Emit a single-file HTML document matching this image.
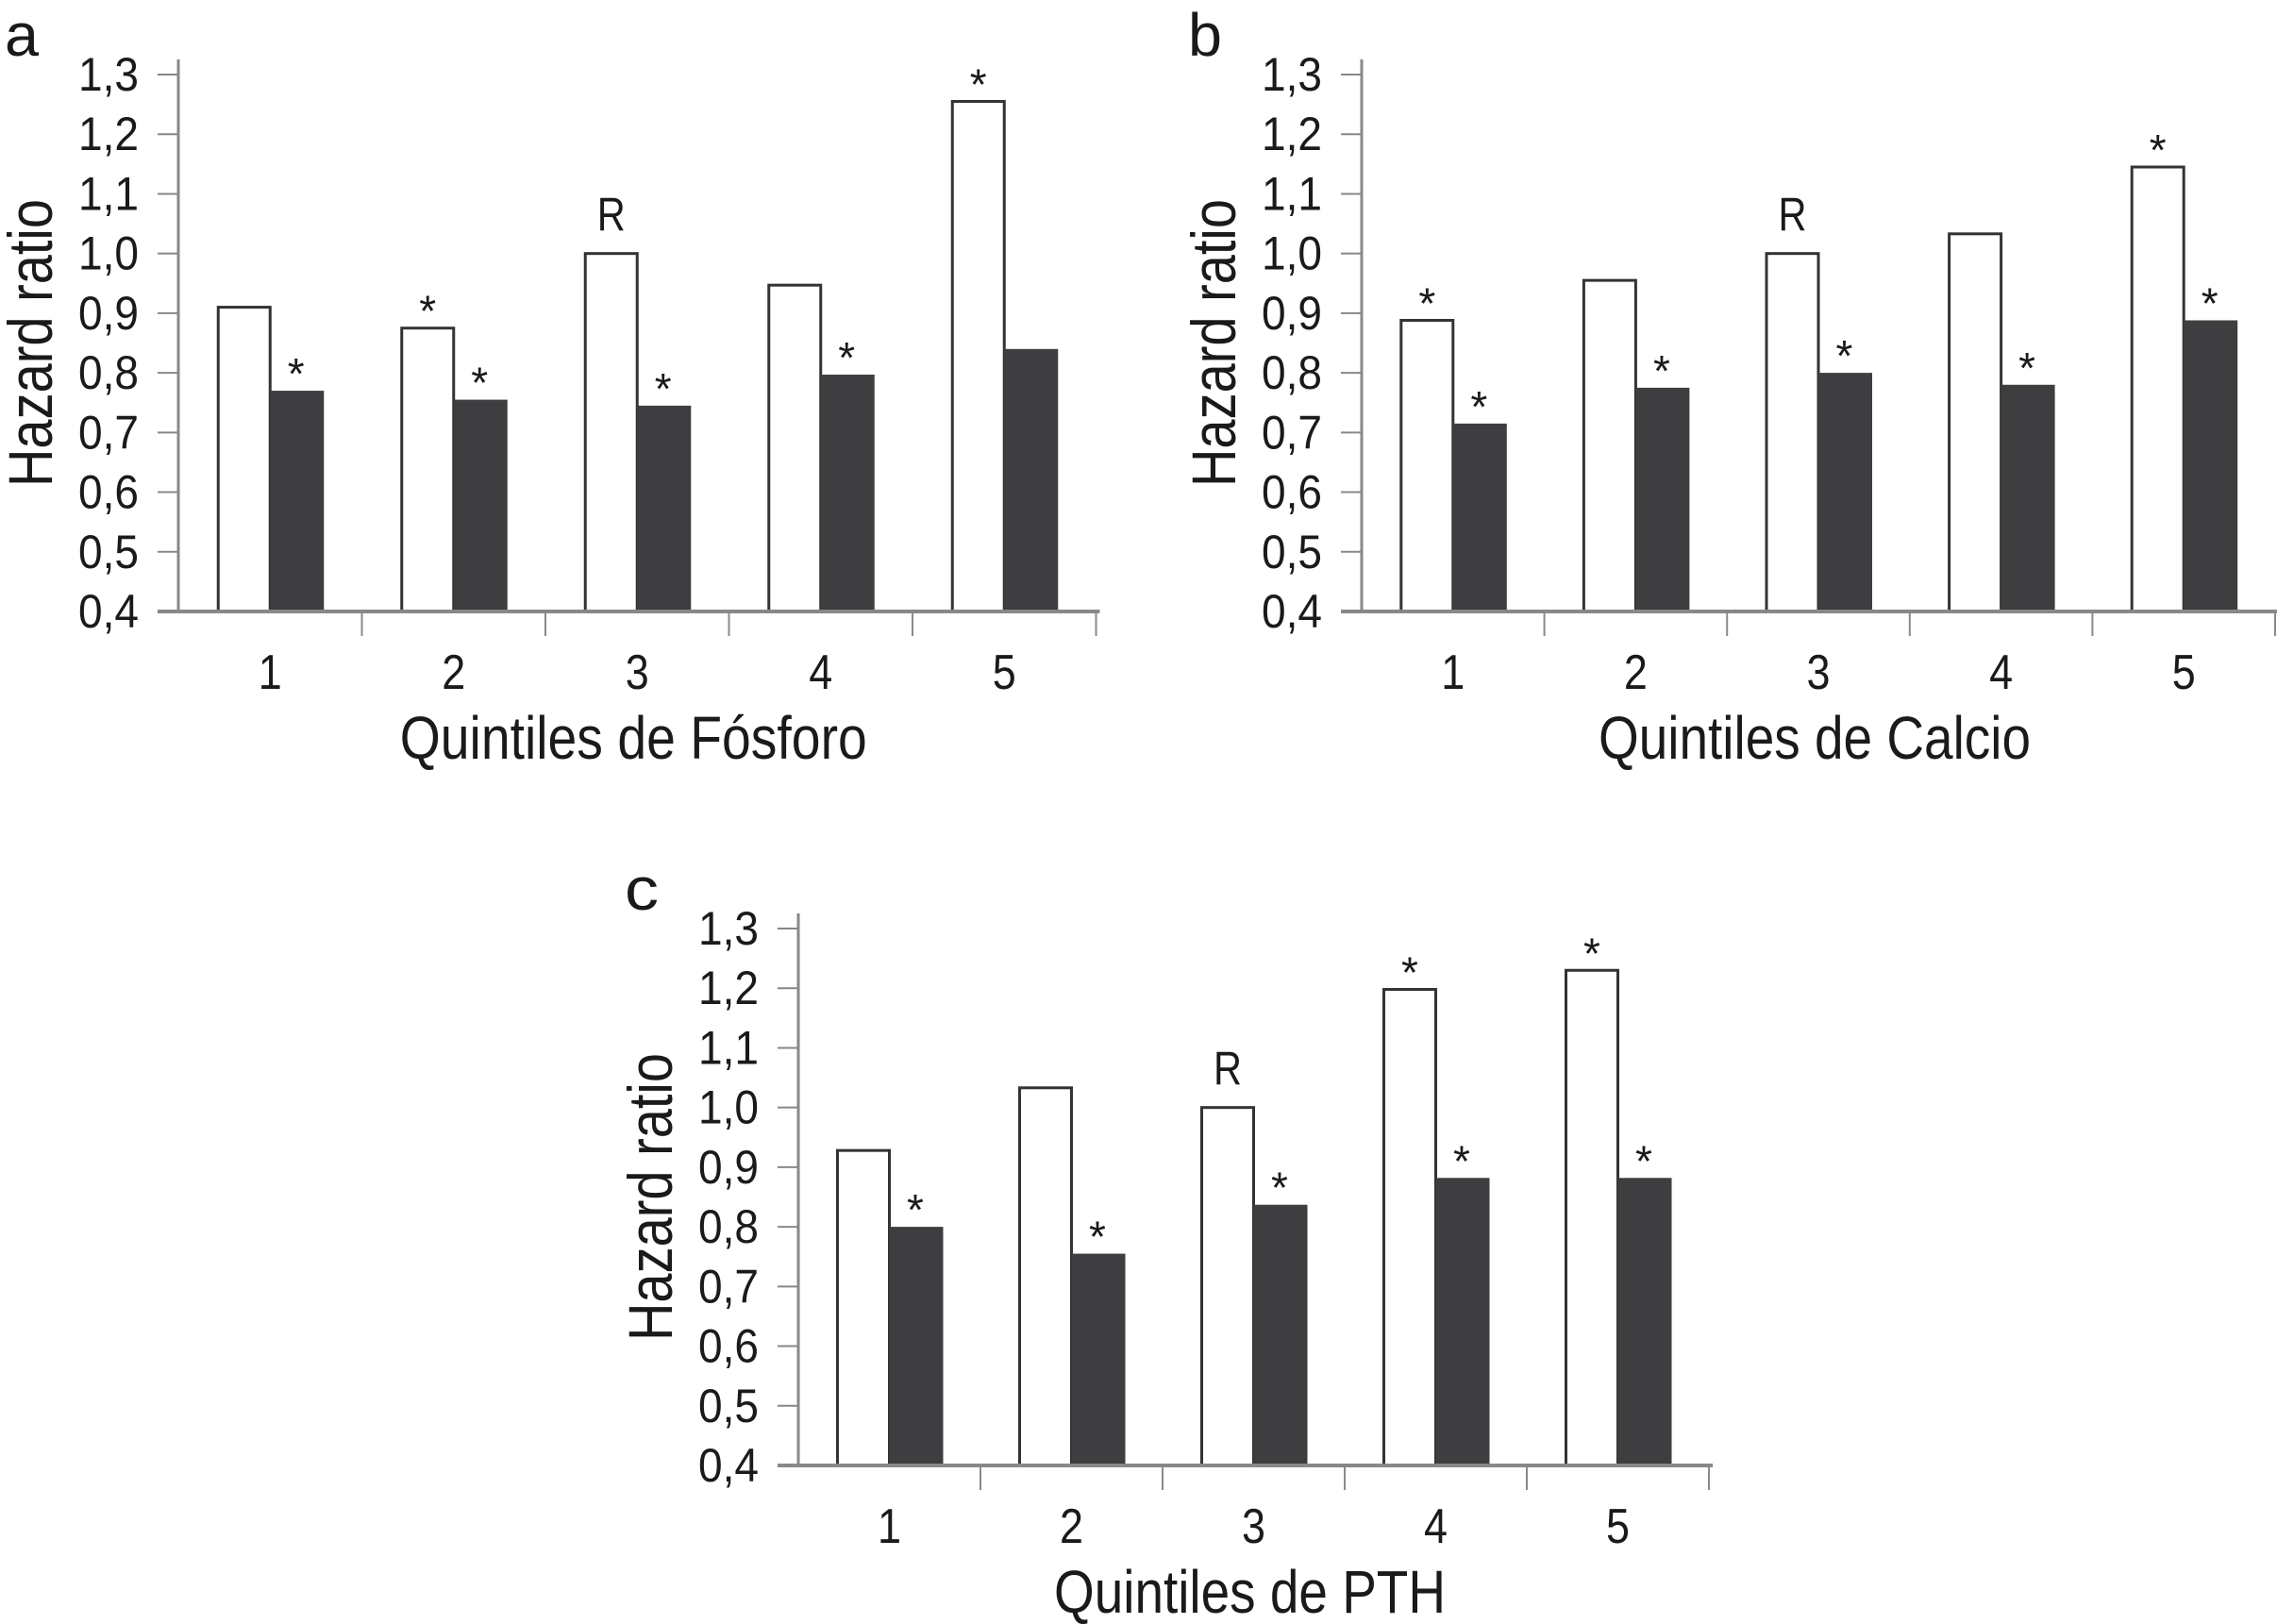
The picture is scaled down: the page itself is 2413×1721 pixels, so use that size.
<!DOCTYPE html>
<html><head><meta charset="utf-8"><style>
html,body{margin:0;padding:0;background:#fff;}
svg{display:block;font-family:"Liberation Sans",Arial,sans-serif;}
</style></head>
<body>
<svg id="fig" width="2413" height="1721" viewBox="0 0 2413 1721"></svg>
<script>
const categories = ["1","2","3","4","5"];
const yTicks = [0.4,0.5,0.6,0.7,0.8,0.9,1.0,1.1,1.2,1.3];
const yTickLabels = ["0,4","0,5","0,6","0,7","0,8","0,9","1,0","1,1","1,2","1,3"];
const fosforoWhite = [0.91,0.875,1.0,0.947,1.255];
const fosforoDark = [0.77,0.755,0.745,0.797,0.84];
const fosforoWhiteStar = [false,true,false,false,true];
const fosforoDarkStar = [true,true,true,true,false];
const calcioWhite = [0.888,0.955,1.0,1.033,1.145];
const calcioDark = [0.715,0.775,0.8,0.78,0.888];
const calcioWhiteStar = [true,false,false,false,true];
const calcioDarkStar = [true,true,true,true,true];
const pthWhite = [0.928,1.033,1.0,1.198,1.23];
const pthDark = [0.8,0.755,0.837,0.882,0.882];
const pthWhiteStar = [false,false,false,true,true];
const pthDarkStar = [true,true,true,true,true];
const refIndex = 2;

const NS="http://www.w3.org/2000/svg";
const svg=document.getElementById('fig');
function mk(tag,attrs,parent){const e=document.createElementNS(NS,tag);for(const k in attrs)e.setAttribute(k,attrs[k]);(parent||svg).appendChild(e);return e;}

function drawChart(cfg){
  const g=mk('g',{});
  
  
  const ax=cfg.ax, y0=cfg.y0, y1=cfg.y1, cw=cfg.cw, bw=55;
  const yScale=v=>y0-(v-0.4)/(1.3-0.4)*(y0-y1);
  const xCenter=i=>ax+cw*(i+0.5);
  const L=mk('text',{x:ax-184,y:y1-20,'font-size':64,fill:'#1a1a1a',textLength:36,lengthAdjust:'spacingAndGlyphs'},g);
  L.textContent=cfg.letter;
  
  
  for(let i=0;i<categories.length;i++){
    const c=xCenter(i);
    const tw=yScale(cfg.white[i]);
    const r1=mk('rect',{x:c-bw,y:tw,width:bw,height:y0-tw,fill:'#fff',stroke:'#333','stroke-width':3},g);
    
    
    const td=yScale(cfg.dark[i]);
    const r2=mk('rect',{x:c,y:td,width:bw+2,height:y0-td,fill:'#3e3e40'},g);
    
    
    if(cfg.ws[i]){const s=mk('text',{x:c-bw/2,y:tw-2,'font-size':46,'text-anchor':'middle',fill:'#1a1a1a'},g);s.textContent='*';
      
      }
    if(cfg.ds[i]){const s=mk('text',{x:c+bw/2,y:td-2,'font-size':46,'text-anchor':'middle',fill:'#1a1a1a'},g);s.textContent='*';
      
      }
    if(i===refIndex){const r=mk('text',{x:c-bw/2,y:tw-24,'font-size':50,'text-anchor':'middle',fill:'#1a1a1a',textLength:30,lengthAdjust:'spacingAndGlyphs'},g);r.textContent='R';
      
      }
    const xl=mk('text',{x:c,y:y0+82,'font-size':52,'text-anchor':'middle',fill:'#1a1a1a',textLength:25,lengthAdjust:'spacingAndGlyphs'},g);
    xl.textContent=categories[i];
    
    
    const tk=mk('line',{x1:ax+cw*(i+1),x2:ax+cw*(i+1),y1:y0,y2:y0+26,stroke:'#8a8a8a','stroke-width':2},g);
    
    
  }
  const ya=mk('line',{x1:ax,x2:ax,y1:y1-16,y2:y0,stroke:'#888','stroke-width':3},g);
  
  
  const xa=mk('line',{x1:ax-22,x2:ax+cw*5+4,y1:y0,y2:y0,stroke:'#888','stroke-width':4},g);
  
  
  for(let j=0;j<yTicks.length;j++){
    const yy=yScale(yTicks[j]);
    const t=mk('line',{x1:ax-22,x2:ax,y1:yy,y2:yy,stroke:'#888','stroke-width':2},g);
    
    
    const tl=mk('text',{x:ax-42,y:yy+17,'font-size':50,'text-anchor':'end',fill:'#1a1a1a',textLength:64,lengthAdjust:'spacingAndGlyphs'},g);
    tl.textContent=yTickLabels[j];
    
    
  }
  const yt=mk('text',{x:0,y:0,'font-size':66,'text-anchor':'middle',fill:'#1a1a1a',textLength:305,lengthAdjust:'spacingAndGlyphs',
    transform:'translate('+(ax-134)+','+((y0+y1)/2)+') rotate(-90)'},g);
  yt.textContent='Hazard ratio';
  
  
  const xt=mk('text',{x:ax+cw*2.5-4,y:y0+156,'font-size':64,'text-anchor':'middle',fill:'#1a1a1a',textLength:cfg.tl,lengthAdjust:'spacingAndGlyphs'},g);
  xt.textContent=cfg.title;
  
  
}
drawChart({name:'chart-fosforo',letter:'a',ax:189,y0:648,y1:79,cw:194.5,white:fosforoWhite,dark:fosforoDark,ws:fosforoWhiteStar,ds:fosforoDarkStar,title:'Quintiles de Fósforo',tl:495});
drawChart({name:'chart-calcio',letter:'b',ax:1443,y0:648,y1:79,cw:193.6,white:calcioWhite,dark:calcioDark,ws:calcioWhiteStar,ds:calcioDarkStar,title:'Quintiles de Calcio',tl:458});
drawChart({name:'chart-pth',letter:'c',ax:846,y0:1553,y1:984,cw:193,white:pthWhite,dark:pthDark,ws:pthWhiteStar,ds:pthDarkStar,title:'Quintiles de PTH',tl:415});
</script>
</body></html>
